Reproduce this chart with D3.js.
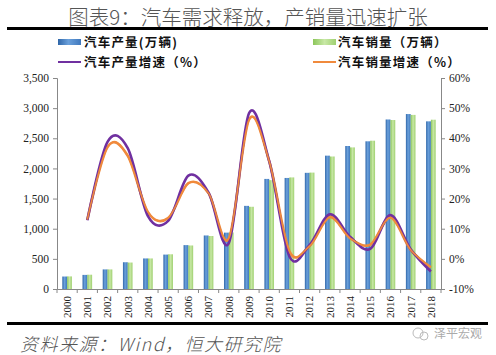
<!DOCTYPE html>
<html><head><meta charset="utf-8">
<script src="https://cdn.jsdelivr.net/npm/d3@7"></script>
<style>
body{margin:0;background:#fff;}
svg{display:block;}
</style></head>
<body>
<svg id="c" width="496" height="355"></svg>
<script>
const years = ["2000","2001","2002","2003","2004","2005","2006","2007","2008","2009","2010","2011","2012","2013","2014","2015","2016","2017","2018"];
const production = [207,234,325,444,507,571,728,888,935,1379,1826,1842,1927,2212,2372,2450,2812,2902,2781];
const sales = [209,237,325,439,507,576,722,879,938,1364,1806,1851,1931,2198,2349,2460,2803,2888,2808];
const prodGrowth = [null,12.8,38.8,36.7,14.2,12.6,27.6,22.0,5.2,48.3,32.4,0.8,4.6,14.8,7.3,3.3,14.5,3.2,-4.2];
const salesGrowth = [null,13.0,37.1,34.2,15.5,13.5,25.1,21.8,6.7,46.2,32.4,2.5,4.3,13.9,6.9,4.7,13.7,3.0,-2.8];
const leftTicks = [0,500,1000,1500,2000,2500,3000,3500];
const rightTicks = [-10,0,10,20,30,40,50,60];
const titleText = "图表9：汽车需求释放，产销量迅速扩张";
const sourceText = "资料来源：Wind，恒大研究院";
const legendLabels = ["汽车产量(万辆)","汽车销量（万辆）","汽车产量增速（%）","汽车销量增速（%）"];

const svg = d3.select("#c");
const defs = svg.append("defs");
function grad(id, stops){
  const g = defs.append("linearGradient").attr("id",id).attr("x1","0").attr("x2","1").attr("y1","0").attr("y2","0");
  stops.forEach(s=>g.append("stop").attr("offset",s[0]).attr("stop-color",s[1]));
}
grad("gb",[[0,"#2f66a8"],[0.45,"#6aa0db"],[1,"#3f78bd"]]);
grad("gg",[[0,"#8cc65a"],[0.5,"#c8e8a6"],[1,"#9fd070"]]);

const L=57, R=441, T=78, B=289;
const x = d3.scaleBand().domain(years).range([L,R]).padding(0);
const yL = d3.scaleLinear().domain([0,3500]).range([B,T]);
const yR = d3.scaleLinear().domain([-10,60]).range([B,T]);

// title
svg.append("text").attr("x",248).attr("y",25).attr("text-anchor","middle")
  .attr("font-family","'Noto Sans CJK SC'").attr("font-weight",300).attr("font-size",20.5)
  .attr("fill","#555").text(titleText);
svg.append("rect").attr("x",7).attr("y",27).attr("width",481).attr("height",3).attr("fill","#000");
svg.append("rect").attr("x",7).attr("y",322).attr("width",481).attr("height",3).attr("fill","#000");

// legend
const lf = "'Noto Sans CJK SC'";
const leg = svg.append("g").attr("font-family",lf).attr("font-weight",700).attr("font-size",12.5).attr("fill","#111").attr("letter-spacing",1.2);
leg.append("rect").attr("x",58).attr("y",39).attr("width",23).attr("height",6).attr("fill","url(#gb)");
leg.append("text").attr("x",84).attr("y",47).text(legendLabels[0]);
leg.append("rect").attr("x",313).attr("y",39).attr("width",23).attr("height",6).attr("fill","url(#gg)");
leg.append("text").attr("x",338).attr("y",47).text(legendLabels[1]);
leg.append("line").attr("x1",58).attr("x2",81).attr("y1",62).attr("y2",62).attr("stroke","#7030a0").attr("stroke-width",2);
leg.append("text").attr("x",84).attr("y",67).text(legendLabels[2]);
leg.append("line").attr("x1",313).attr("x2",336).attr("y1",62).attr("y2",62).attr("stroke","#f08a3c").attr("stroke-width",2);
leg.append("text").attr("x",338).attr("y",67).text(legendLabels[3]);

// bars
const bw = 4.8;
svg.append("g").selectAll("rect").data(years).join("rect")
  .attr("x",d=>x(d)+x.bandwidth()/2-bw).attr("width",bw)
  .attr("y",(d,i)=>yL(production[i])).attr("height",(d,i)=>B-yL(production[i]))
  .attr("fill","url(#gb)");
svg.append("g").selectAll("rect").data(years).join("rect")
  .attr("x",d=>x(d)+x.bandwidth()/2).attr("width",bw)
  .attr("y",(d,i)=>yL(sales[i])).attr("height",(d,i)=>B-yL(sales[i]))
  .attr("fill","url(#gg)");

// axes
const axisColor = "#888";
const gl = svg.append("g").attr("transform",`translate(${L},0)`).call(d3.axisLeft(yL).tickValues(leftTicks).tickFormat(d3.format(",")).tickSize(4).tickPadding(4));
const gr = svg.append("g").attr("transform",`translate(${R},0)`).call(d3.axisRight(yR).tickValues(rightTicks).tickFormat(d=>d+"%").tickSize(4).tickPadding(4));
const gx = svg.append("g").attr("transform",`translate(0,${B})`).call(d3.axisBottom(x).tickSize(0).tickPadding(0));
[gl,gr,gx].forEach(g=>{
  g.select(".domain").attr("stroke",axisColor);
  g.selectAll(".tick line").attr("stroke",axisColor);
  g.selectAll("text").attr("font-family","'Liberation Serif'").attr("font-size",11.5).attr("fill","#222");
});
gx.selectAll(".tick text").attr("transform","rotate(-90)").attr("text-anchor","end")
  .attr("x",-7).attr("y",0).attr("dy","0.35em").attr("font-size",11);
// category separator ticks
svg.append("g").selectAll("line").data(years.concat(["end"])).join("line")
  .attr("x1",(d,i)=>L+i*x.bandwidth()).attr("x2",(d,i)=>L+i*x.bandwidth())
  .attr("y1",B).attr("y2",B+4).attr("stroke",axisColor);

// lines
const line = d3.line().defined(d=>d[1]!==null).x(d=>x(d[0])+x.bandwidth()/2).y(d=>yR(d[1])).curve(d3.curveCatmullRom.alpha(0));
svg.append("path").datum(years.map((y,i)=>[y,salesGrowth[i]])).attr("d",line)
  .attr("fill","none").attr("stroke","#f08a3c").attr("stroke-width",2.6);
svg.append("path").datum(years.map((y,i)=>[y,prodGrowth[i]])).attr("d",line)
  .attr("fill","none").attr("stroke","#7030a0").attr("stroke-width",2.6);
// re-draw orange on top slightly? keep purple under orange for look
svg.append("path").datum(years.map((y,i)=>[y,salesGrowth[i]])).attr("d",line)
  .attr("fill","none").attr("stroke","#f08a3c").attr("stroke-width",1.6);

// source
svg.append("text").attr("x",20).attr("y",351).attr("font-family","'Noto Sans CJK SC'").attr("font-weight",300)
  .attr("font-style","italic").attr("font-size",18).attr("fill","#555").attr("letter-spacing",1.5).text(sourceText);
// watermark
svg.append("circle").attr("cx",418).attr("cy",333).attr("r",5).attr("fill","none").attr("stroke","#bbb").attr("stroke-width",1);
svg.append("circle").attr("cx",424).attr("cy",336).attr("r",4).attr("fill","none").attr("stroke","#bbb").attr("stroke-width",1);
svg.append("text").attr("x",434).attr("y",338).attr("font-family","'Noto Sans CJK SC'").attr("font-size",12)
  .attr("fill","#aaa").text("泽平宏观");
</script>
</body></html>
